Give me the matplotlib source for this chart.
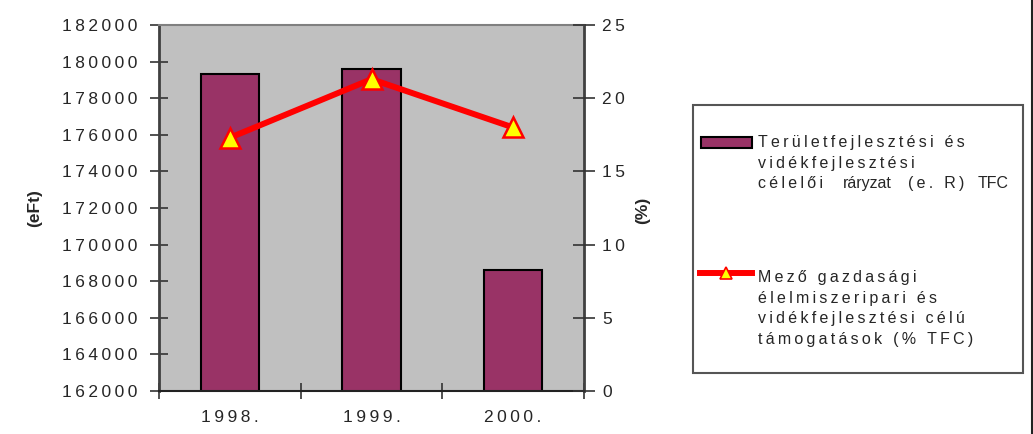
import matplotlib
matplotlib.use('Agg')
import matplotlib.pyplot as plt
from matplotlib.patches import Rectangle
from matplotlib.lines import Line2D
import numpy as np

# ---- data ----
years = ['1998.', '1999.', '2000.']
bar_values = [179300, 179600, 168600]      # eFt
pct_values = [17.3, 21.3, 18.0]            # %
left_ticks = [162000, 164000, 166000, 168000, 170000, 172000, 174000, 176000, 178000, 180000, 182000]
right_ticks = [0, 5, 10, 15, 20, 25]
left_label = '(eFt)'
right_label = '(%)'
bar_label = ['Területfejlesztési és', 'vidékfejlesztési']
bar_label_last = ['célelői', 'ráryzat', '(e. R)', 'TFC']
line_label = ['Mező gazdasági', 'élelmiszeripari és', 'vidékfejlesztési célú', 'támogatások (% TFC)']

plt.rcParams['font.family'] = ['Liberation Sans', 'DejaVu Sans']

THIN = '\u2009'

def sp(s):
    return THIN.join(s)

W, H = 1033, 434
fig = plt.figure(figsize=(W / 100, H / 100), dpi=100)

def fx(px):
    return px / W

def fy(py):
    return 1 - py / H

BAR_C = '#993366'
FS = 12.5
TC = '#262626'

ax = fig.add_axes([fx(159), fy(391), (584 - 159) / W, (391 - 25) / H])
ax.set_facecolor('#C0C0C0')
x = np.arange(len(years))
ax.bar(x, bar_values, width=0.41, color=BAR_C, edgecolor='black', linewidth=1.5, zorder=2)
ax.set_xlim(-0.5, 2.5)
ax.set_ylim(162000, 182000)
ax.set_yticks(left_ticks)
ax.set_yticklabels([sp(str(v)) for v in left_ticks], fontsize=FS, color=TC)
ax.set_xticks(x)
ax.set_xticklabels([sp(y) for y in years], fontsize=FS, color=TC)
ax.set_xticks([-0.5, 0.5, 1.5, 2.5], minor=True)
ax.tick_params(axis='x', which='major', length=0, pad=14)
ax.tick_params(axis='x', which='minor', direction='inout', length=12, width=1.2, color='#333333')
ax.tick_params(axis='y', direction='inout', length=13, width=1.2, color='#333333', pad=9)
for s in ['left', 'right']:
    ax.spines[s].set_color('#404040')
    ax.spines[s].set_linewidth(2)
ax.spines['bottom'].set_color('#222222')
ax.spines['bottom'].set_linewidth(1.5)
ax.spines['top'].set_color('#808080')
ax.spines['top'].set_linewidth(1.5)

ax2 = ax.twinx()
ax2.plot(x, pct_values, color='#FF0000', lw=4.3, marker='^', ms=14,
         mfc='#FFFF00', mec='#FF0000', mew=1.8, zorder=3, solid_capstyle='butt')
ax2.set_ylim(0, 25)
ax2.set_yticks(right_ticks)
ax2.set_yticklabels([sp(str(v)) for v in right_ticks], fontsize=FS, color=TC)
ax2.tick_params(axis='y', direction='inout', length=16, width=1.2, color='#333333', pad=5)
for s in ax2.spines.values():
    s.set_visible(False)

fig.text(fx(35), fy(208), left_label, rotation=90, ha='center', va='center',
         fontsize=FS, fontweight='bold', color=TC)
fig.text(fx(643), fy(210), right_label, rotation=90, ha='center', va='center',
         fontsize=FS, fontweight='bold', color=TC)

# ---- legend (drawn manually) ----
fig.add_artist(Rectangle((fx(693), fy(373)), (1023 - 693) / W, (373 - 105) / H,
                         transform=fig.transFigure, facecolor='white',
                         edgecolor='#555555', linewidth=1.5))
fig.add_artist(Rectangle((fx(701), fy(148)), (752 - 701) / W, (148 - 137) / H,
                         transform=fig.transFigure, facecolor=BAR_C,
                         edgecolor='black', linewidth=1.5))
fig.add_artist(Line2D([fx(700), fx(752)], [fy(273), fy(273)], transform=fig.transFigure,
                      color='#FF0000', lw=4.3))
fig.add_artist(Line2D([fx(726)], [fy(273)], transform=fig.transFigure, marker='^',
                      ms=9, mfc='#FFFF00', mec='#FF0000', mew=1.2, lw=0))
LFS = 11.5
for i, t in enumerate(bar_label):
    fig.text(fx(758), fy(147 + i * 20.6), sp(t), fontsize=LFS, va='baseline',
             ha='left', color=TC)
seg_x = [758, 843, 908, 978]
seg_spaced = [True, False, True, False]
for t, px, s in zip(bar_label_last, seg_x, seg_spaced):
    fig.text(fx(px), fy(147 + 2 * 20.6), sp(t) if s else t, fontsize=LFS, va='baseline',
             ha='left', color=TC)
for i, t in enumerate(line_label):
    fig.text(fx(758), fy(282 + i * 20.7), sp(t), fontsize=LFS, va='baseline',
             ha='left', color=TC)

fig.add_artist(Line2D([fx(1031.5), fx(1031.5)], [0, 1], transform=fig.transFigure,
                      color='#222222', lw=1.5))

fig.savefig('out.png', dpi=100)
